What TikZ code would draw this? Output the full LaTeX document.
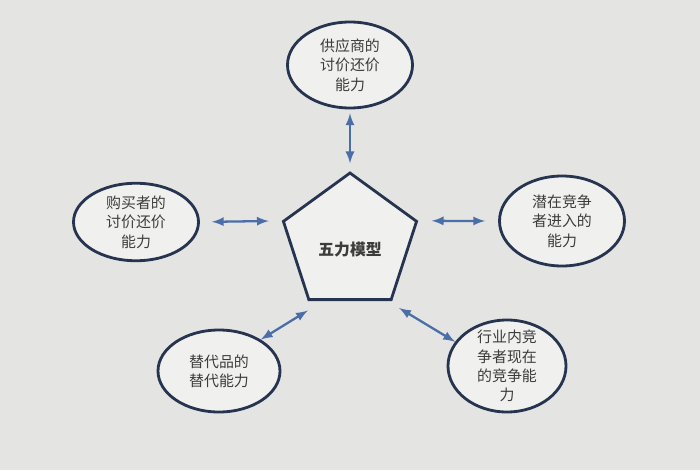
\documentclass[tikz,border=0pt]{standalone}
\usepackage{fontspec}
\newfontfamily\cjk{Noto Sans CJK SC}
\usetikzlibrary{shapes.geometric}
\definecolor{bggray}{HTML}{E4E4E2}
\definecolor{shapefill}{HTML}{F0F0EF}
\definecolor{navy}{HTML}{26344F}
\definecolor{arrowblue}{HTML}{4A6FA8}
\definecolor{txtgray}{HTML}{3C3C3C}
\tikzset{
  force/.style={ellipse, draw=navy, line width=1.6pt, fill=shapefill,
    minimum width=2.5cm, minimum height=1.72cm, inner sep=0pt, align=center,
    text=txtgray, font=\cjk\fontsize{8.5pt}{11pt}\selectfont},
  pent/.style={regular polygon, regular polygon sides=5, draw=navy,
    line width=1.6pt, fill=shapefill, minimum size=2.8cm, inner sep=0pt},
  arr/.style={<->, >=latex, draw=arrowblue, line width=1.3pt}
}
\begin{document}
\begin{tikzpicture}
  \fill[bggray] (0,0) rectangle (14,9.4);

  \node[pent] (five) at (7,4.54) {};
  \node[text=txtgray, font=\cjk\bfseries\fontsize{9pt}{11pt}\selectfont] (fivetxt) at (7,4.4) {五力模型};

  \node[force] (supplier) at (7,8.1) {供应商的\\讨价还价\\能力};
  \node[force, minimum height=1.55cm] (buyer) at (2.72,4.96) {购买者的\\讨价还价\\能力};
  \node[force, minimum height=1.8cm] (entrant) at (11.24,4.98) {潜在竞争\\者进入的\\能力};
  \node[force, minimum width=2.44cm, minimum height=1.64cm] (sub) at (4.38,1.98) {替代品的\\替代能力};
  \node[force, minimum width=2.36cm, minimum height=1.84cm, inner ysep=-3pt] (rival) at (10.14,2.08) {行业内竞\\争者现在\\的竞争能\\力};

  \draw[arr, shorten <=0.08cm, shorten >=0.16cm] (supplier.south) -- (five.corner 1);
  \draw[arr, shorten <=0.24cm, shorten >=0.26cm] (buyer.east) -- (five.corner 2);
  \draw[arr, shorten <=0.26cm, shorten >=0.27cm] (entrant.west) -- (five.corner 5);
  \draw[arr] (sub.37) -- ([yshift=-0.19cm]five.corner 3);
  \draw[arr] ([xshift=0.14cm,yshift=-0.14cm]five.corner 4) -- (rival.155);
\end{tikzpicture}
\end{document}
